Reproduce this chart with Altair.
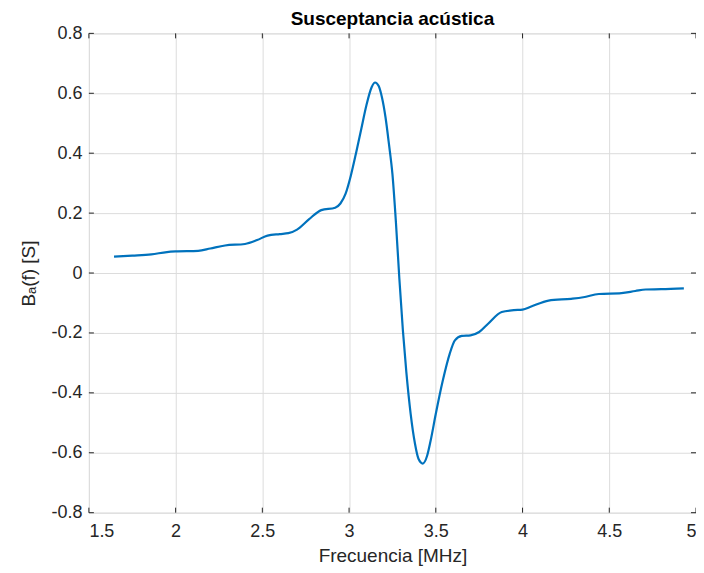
import altair as alt
import pandas as pd

freq = [1.645, 1.75, 1.86, 1.95, 2.0, 2.13, 2.2, 2.285, 2.4, 2.47, 2.53, 2.6, 2.65, 2.7, 2.77,
        2.84, 2.92, 2.95, 2.98, 3.01, 3.04, 3.07, 3.1, 3.13, 3.15, 3.17, 3.19, 3.21, 3.23, 3.25, 3.27,
        3.29, 3.31, 3.33, 3.355, 3.38, 3.40, 3.425, 3.45, 3.47, 3.50, 3.54, 3.58, 3.61, 3.65,
        3.7, 3.75, 3.8, 3.88, 3.95, 4.0, 4.05, 4.15, 4.28, 4.35, 4.44, 4.57, 4.65, 4.71, 4.8, 4.93]
susc = [0.055, 0.058, 0.062, 0.070, 0.072, 0.074, 0.082, 0.092, 0.097, 0.110, 0.125, 0.130, 0.133,
        0.145, 0.18, 0.21, 0.218, 0.232, 0.265, 0.325, 0.40, 0.48, 0.56, 0.62, 0.636, 0.625, 0.585, 0.52,
        0.43, 0.33, 0.17, -0.02, -0.19, -0.33, -0.47, -0.57, -0.62, -0.636, -0.61, -0.56, -0.47,
        -0.36, -0.27, -0.225, -0.21, -0.208, -0.197, -0.17, -0.13, -0.124, -0.122, -0.112, -0.092,
        -0.086, -0.081, -0.070, -0.067, -0.06, -0.055, -0.054, -0.051]

x_ticks = [1.5, 2, 2.5, 3, 3.5, 4, 4.5, 5]
y_ticks = [-0.8, -0.6, -0.4, -0.2, 0, 0.2, 0.4, 0.6, 0.8]

df = pd.DataFrame({"f": freq, "b": susc})
xt = pd.DataFrame({"t": x_ticks})
yt = pd.DataFrame({"t": y_ticks})

W, H = 608, 480
FONT = "Liberation Sans"
AX = "#262626"

xs = alt.Scale(domain=[1.5, 5], nice=False)
ys = alt.Scale(domain=[-0.8, 0.8], nice=False)

line = alt.Chart(df).mark_line(color="#0072BD", strokeWidth=2.2, interpolate="monotone").encode(
    x=alt.X("f:Q", scale=xs, title="Frecuencia [MHz]",
            axis=alt.Axis(values=x_ticks, labelExpr="toString(round(datum.value*10)/10)",
                          tickSize=0, labelPadding=10, titlePadding=6, domain=False,
                          gridColor="#dcdcdc", labelFontSize=18, titleFontSize=19,
                          labelColor=AX, titleColor=AX, labelFont=FONT, titleFont=FONT,
                          titleFontWeight="normal")),
    y=alt.Y("b:Q", scale=ys, title="Bₐ(f) [S]",
            axis=alt.Axis(values=y_ticks, labelExpr="toString(round(datum.value*10)/10)",
                          tickSize=0, labelPadding=7, titlePadding=12, domain=False,
                          gridColor="#dcdcdc", labelFontSize=18, titleFontSize=19,
                          labelColor=AX, titleColor=AX, labelFont=FONT, titleFont=FONT,
                          titleFontWeight="normal")),
)

tb = alt.Chart(xt).mark_rule(color=AX, strokeWidth=1).encode(
    x=alt.X("t:Q", scale=xs), y=alt.value(H), y2=alt.value(H - 5))
tt = alt.Chart(xt).mark_rule(color=AX, strokeWidth=1).encode(
    x=alt.X("t:Q", scale=xs), y=alt.value(0), y2=alt.value(5))
tl = alt.Chart(yt).mark_rule(color=AX, strokeWidth=1).encode(
    y=alt.Y("t:Q", scale=ys), x=alt.value(0), x2=alt.value(5))
tr = alt.Chart(yt).mark_rule(color=AX, strokeWidth=1).encode(
    y=alt.Y("t:Q", scale=ys), x=alt.value(W), x2=alt.value(W - 5))

chart = alt.layer(line, tb, tt, tl, tr).properties(
    width=W, height=H,
    title=alt.TitleParams("Susceptancia acústica", font=FONT, fontSize=19, fontWeight="bold",
                          color="#000000", offset=0, dy=5),
    autosize=alt.AutoSizeParams(type="none"),
    padding={"left": 81, "top": 25, "right": 0, "bottom": 60},
).configure_view(stroke=AX, strokeWidth=1).configure(background="white")

chart.save("out.html", embed_options={"renderer": "svg", "actions": False})
